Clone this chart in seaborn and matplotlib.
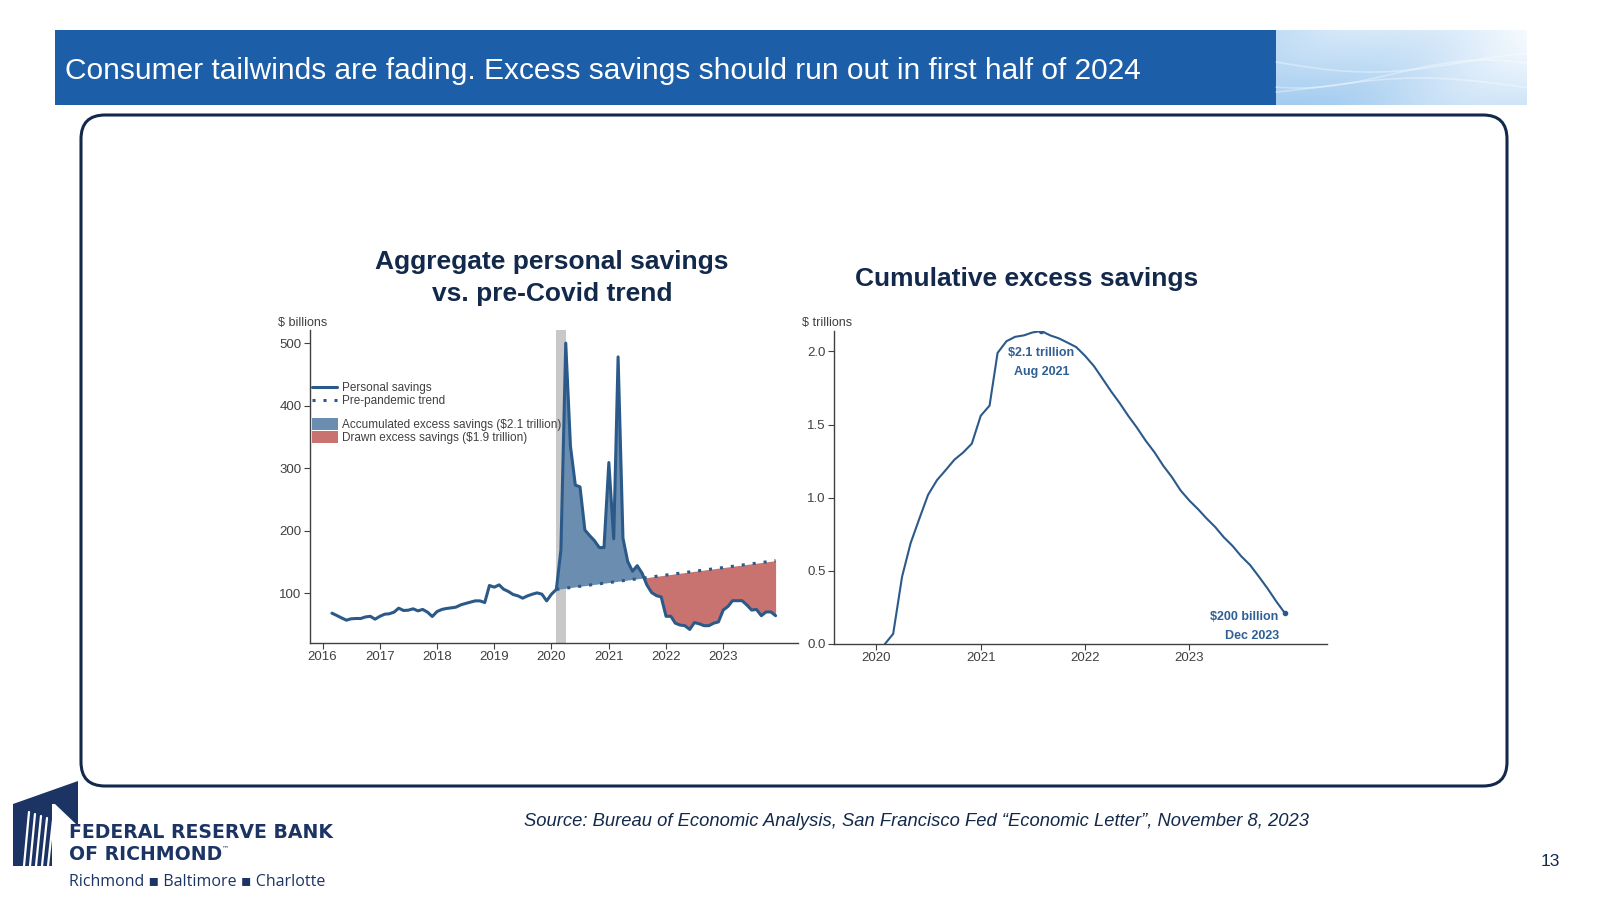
import numpy as np
import pandas as pd
import matplotlib
matplotlib.use("Agg")
import matplotlib.pyplot as plt
from matplotlib.patches import FancyBboxPatch, Rectangle, Polygon, Patch
from matplotlib.lines import Line2D
import seaborn as sns

sns.set_theme(style="white")
plt.rcParams['font.family'] = ['Liberation Sans', 'DejaVu Sans']

# ---- data ----
# monthly personal savings, $ billions, Mar 2016 .. Dec 2023
savings_start = "2016-03-01"
personal_savings = [
    68, 64.3, 60.5, 56.8, 59, 59.5, 59.5, 62, 63, 58.4,
    63, 66.4, 67, 69.6, 76, 72.3, 72.8, 75, 71.7, 74, 69.6, 62.7,
    70.7, 74, 75.5, 76.5, 77.6, 81.3, 83.5, 85.6, 87.7, 87.7, 85, 112.3,
    109.6, 113.3, 106.4, 102.7, 97.9, 95.7, 92, 95.7, 98.4, 100.5, 98.4, 87.7,
    98.4, 106, 169, 500, 335, 273, 270, 201, 192, 184, 173, 173,
    309, 187, 478, 188, 151, 135, 144, 132, 113, 101, 96, 94,
    63, 63, 52, 49, 48, 42, 53, 51, 48, 48, 52, 54,
    73, 79, 88, 88, 88, 81, 73, 74, 64, 70, 70, 64,
]
# pre-pandemic trend, $ billions, Feb 2020 .. Dec 2023
trend_start = "2020-02-01"
pre_pandemic_trend = [
    106, 107, 108, 109, 110, 111, 112, 113, 114, 115, 116, 117,
    118, 119, 120, 121, 122, 123, 124, 125, 126, 127, 128, 129,
    130, 131, 132, 133, 134, 135, 136, 137, 138, 139, 140, 141,
    142, 143, 144, 145, 146, 147, 148, 149, 150, 151, 152,
]
# cumulative excess savings, $ trillions, Feb 2020 .. Dec 2023
cum_start = "2020-02-01"
cumulative_excess = [
    0.0, 0.07, 0.46, 0.69, 0.86, 1.02, 1.12, 1.19, 1.26, 1.31, 1.37,
    1.56, 1.63, 1.99, 2.07, 2.10, 2.11, 2.13, 2.14, 2.11, 2.09, 2.06, 2.03,
    1.97, 1.90, 1.82, 1.73, 1.65, 1.56, 1.48, 1.39, 1.31, 1.22, 1.14, 1.05,
    0.98, 0.92, 0.86, 0.80, 0.73, 0.67, 0.60, 0.54, 0.46, 0.38, 0.29, 0.21,
]
recession = ("2020-02-01", "2020-04-01")
left_years = list(range(2016, 2024))
right_years = list(range(2020, 2024))
left_yticks = [100, 200, 300, 400, 500]
right_yticks = [0.0, 0.5, 1.0, 1.5, 2.0]

sav = pd.DataFrame({"date": pd.date_range(savings_start, periods=len(personal_savings), freq="MS"),
                    "value": personal_savings})
trd = pd.DataFrame({"date": pd.date_range(trend_start, periods=len(pre_pandemic_trend), freq="MS"),
                    "trend": pre_pandemic_trend})
trd = trd.merge(sav, on="date")
cum = pd.DataFrame({"date": pd.date_range(cum_start, periods=len(cumulative_excess), freq="MS"),
                    "value": cumulative_excess})

NAVY = "#13294b"
LINE = "#2b5a8a"
BLUE_FILL = "#6b8db0"
RED_FILL = "#c97371"
TXT = "#404040"
ANN = "#2f5f94"

fig = plt.figure(figsize=(16, 9), dpi=100)

# ---- slide decoration in pixel coordinates ----
deco = fig.add_axes([0, 0, 1, 1], zorder=0)
deco.set_xlim(0, 1600)
deco.set_ylim(900, 0)
deco.axis("off")

deco.add_patch(Rectangle((55, 30), 1221, 75, color="#1d5ea8", lw=0))
gx, gy = np.meshgrid(np.linspace(0, 1, 250), np.linspace(0, 1, 75))
g = np.clip(0.35 + 0.55 * gx - 0.35 * gy + 0.08 * np.sin(gx * 7 + gy * 3), 0, 1)
lo = np.array([0.64, 0.80, 0.94])
hi = np.array([0.98, 0.99, 1.0])
img = lo + (hi - lo) * g[..., None]
deco.imshow(img, extent=[1276, 1527, 105, 30], aspect="auto", zorder=1)
t = np.linspace(1276, 1527, 100)
for k, (a, ph) in enumerate([(10, 0.0), (14, 1.2), (8, 2.3)]):
    deco.plot(t, 62 + 12 * k + a * np.sin((t - 1276) / 60 + ph), color="white", alpha=0.35, lw=1.2, zorder=2)

deco.text(65, 71, "Consumer tailwinds are fading. Excess savings should run out in first half of 2024",
          color="white", fontsize=21.5, va="center", ha="left")

deco.add_patch(FancyBboxPatch((81, 115), 1426, 671, boxstyle="round,pad=0,rounding_size=24",
                              fc="none", ec=NAVY, lw=2.2))

deco.text(552, 262, "Aggregate personal savings", color=NAVY, fontsize=19, fontweight="bold",
          ha="center", va="center")
deco.text(552, 294, "vs. pre-Covid trend", color=NAVY, fontsize=19, fontweight="bold",
          ha="center", va="center")
deco.text(1027, 279, "Cumulative excess savings", color=NAVY, fontsize=19, fontweight="bold",
          ha="center", va="center")

deco.text(916, 821, "Source: Bureau of Economic Analysis, San Francisco Fed \u201cEconomic Letter\u201d, November 8, 2023",
          color=NAVY, fontsize=13.2, style="italic", ha="center", va="center")
deco.text(1550, 861, "13", color=NAVY, fontsize=12.5, ha="center", va="center")

# logo
LOGO = "#1b3464"
deco.add_patch(Polygon([(13, 804), (78, 781), (78, 804)], closed=True, color=LOGO, lw=0))
deco.add_patch(Polygon([(13, 804), (52, 804), (52, 866), (13, 866)], closed=True, color=LOGO, lw=0))
deco.add_patch(Polygon([(55, 804), (78, 804), (78, 826)], closed=True, color=LOGO, lw=0))
for i in range(5):
    x0 = 24 + 6 * i
    deco.plot([x0, x0 + 5], [866, 812 + 2 * i], color="white", lw=1.6, zorder=3)
deco.text(69, 833, "FEDERAL RESERVE BANK", color=LOGO, fontsize=13.6, fontweight="bold",
          family=["DejaVu Sans"], va="center", ha="left")
deco.text(69, 855, "OF RICHMOND", color=LOGO, fontsize=13.6, fontweight="bold",
          family=["DejaVu Sans"], va="center", ha="left")
deco.text(222, 848, "\u2122", color=LOGO, fontsize=5, family=["DejaVu Sans"], va="center", ha="left")
deco.text(69, 882, "Richmond \u25aa Baltimore \u25aa Charlotte", color=LOGO, fontsize=11.5,
          family=["Open Sans", "DejaVu Sans"], va="center", ha="left")


def style_axis(ax):
    sns.despine(ax=ax)
    for s in ("left", "bottom"):
        ax.spines[s].set_color(TXT)
        ax.spines[s].set_linewidth(1.0)
    ax.tick_params(axis="both", bottom=True, left=True, direction="out", length=4, width=0.8,
                   colors=TXT, labelsize=9.5, pad=2)
    ax.set_facecolor("none")
    ax.set_xlabel("")
    ax.set_ylabel("")


# ---- left chart ----
axl = fig.add_axes([310 / 1600, 1 - 643 / 900, 488 / 1600, 313 / 900], zorder=2)
axl.axvspan(pd.Timestamp(recession[0]), pd.Timestamp(recession[1]), color="#c8c8c8", lw=0, zorder=0)
above = (trd["value"] >= trd["trend"]).to_numpy()
below = ((trd["value"] <= trd["trend"]) & (trd["date"] > "2021-01-01")).to_numpy()
axl.fill_between(trd["date"], trd["trend"], trd["value"], where=above, interpolate=True,
                 color=BLUE_FILL, lw=0, zorder=1)
axl.fill_between(trd["date"], trd["trend"], trd["value"], where=below, interpolate=True,
                 color=RED_FILL, lw=0, zorder=1)
sns.lineplot(data=trd, x="date", y="trend", ax=axl, color=LINE, lw=2.2,
             linestyle=(0, (1, 2.6)), zorder=3)
sns.lineplot(data=sav, x="date", y="value", ax=axl, color=LINE, lw=2.2, zorder=4)
axl.set_xlim(pd.Timestamp("2015-10-13"), pd.Timestamp("2024-04-22"))
axl.set_ylim(20.3, 521)
axl.set_xticks([pd.Timestamp(f"{y}-01-01") for y in left_years])
axl.set_xticklabels([str(y) for y in left_years])
axl.set_yticks(left_yticks)
axl.set_yticklabels([str(v) for v in left_yticks])
style_axis(axl)
axl.text(-0.066, 1.021, "$ billions", transform=axl.transAxes, fontsize=9, color=TXT, ha="left", va="center")

h1 = [Line2D([], [], color=LINE, lw=2.2),
      Line2D([], [], color=LINE, lw=2.2, linestyle=(0, (1, 2.6)))]
leg1 = axl.legend(h1, ["Personal savings", "Pre-pandemic trend"], loc="upper left",
                  bbox_to_anchor=(312 / 1600, 1 - 382 / 900), bbox_transform=fig.transFigure,
                  frameon=False, fontsize=8.5, handlelength=2.1, handletextpad=0.4,
                  labelspacing=0.1, borderpad=0, borderaxespad=0)
for tx in leg1.get_texts():
    tx.set_color(TXT)
axl.add_artist(leg1)
h2 = [Patch(color=BLUE_FILL, lw=0), Patch(color=RED_FILL, lw=0)]
leg2 = axl.legend(h2, ["Accumulated excess savings ($2.1 trillion)", "Drawn excess savings ($1.9 trillion)"],
                  loc="upper left", bbox_to_anchor=(312 / 1600, 1 - 418 / 900), bbox_transform=fig.transFigure,
                  frameon=False, fontsize=8.5, handlelength=2.2, handleheight=1.2, handletextpad=0.3,
                  labelspacing=0.0, borderpad=0, borderaxespad=0)
for tx in leg2.get_texts():
    tx.set_color(TXT)

# ---- right chart ----
axr = fig.add_axes([834 / 1600, 1 - 644 / 900, 493 / 1600, 313 / 900], zorder=2)
sns.lineplot(data=cum, x="date", y="value", ax=axr, color=LINE, lw=1.5)
ends = cum.iloc[[cum["value"].idxmax(), len(cum) - 1]]
axr.plot(ends["date"], ends["value"], "o", color=LINE, ms=3)
axr.set_xlim(pd.Timestamp("2019-08-07"), pd.Timestamp("2024-04-26"))
axr.set_ylim(0, 2.14)
axr.set_xticks([pd.Timestamp(f"{y}-01-01") for y in right_years])
axr.set_xticklabels([str(y) for y in right_years])
axr.set_yticks(right_yticks)
axr.set_yticklabels([f"{v:.1f}" for v in right_yticks])
style_axis(axr)
axr.text(-0.064, 1.025, "$ trillions", transform=axr.transAxes, fontsize=9, color=TXT, ha="left", va="center")

pk = cum.loc[cum["value"].idxmax()]
axr.text(pk["date"], 1.99, "$2.1 trillion", color=ANN, fontsize=9, fontweight="bold", ha="center", va="center")
axr.text(pk["date"], 1.86, "Aug 2021", color=ANN, fontsize=9, fontweight="bold", ha="center", va="center")
axr.text(pd.Timestamp("2023-11-08"), 0.186, "$200 billion", color=ANN, fontsize=9, fontweight="bold",
         ha="right", va="center")
axr.text(pd.Timestamp("2023-11-10"), 0.057, "Dec 2023", color=ANN, fontsize=9, fontweight="bold",
         ha="right", va="center")

fig.savefig("out.png", dpi=100, facecolor="white")
